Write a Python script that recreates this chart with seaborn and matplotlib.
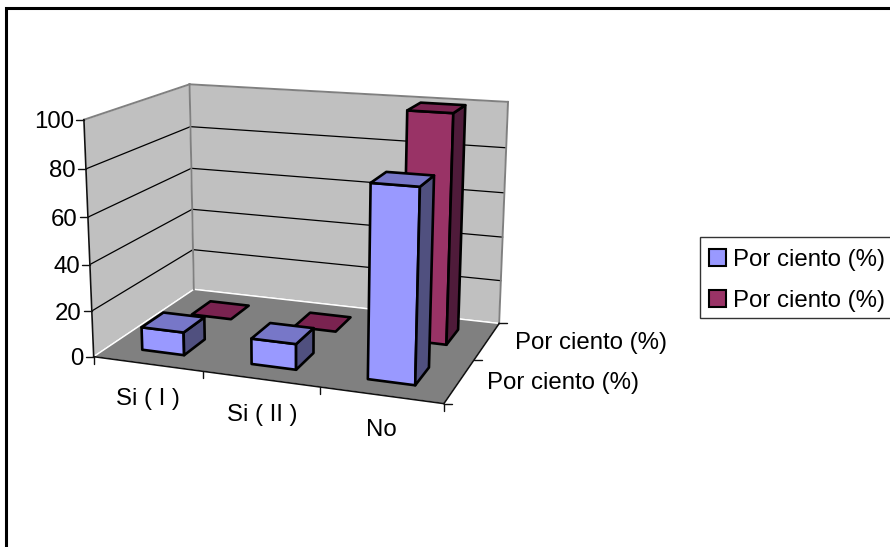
import numpy as np
import pandas as pd
import matplotlib
matplotlib.use("Agg")
import matplotlib.pyplot as plt
from matplotlib.patches import Patch, Polygon, Rectangle
import seaborn as sns

# Chart values
categories = ["Si ( I )", "Si ( II )", "No"]
front_series = [10, 11, 80]
back_series = [0, 0, 100]
value_ticks = [0, 20, 40, 60, 80, 100]
series_label = "Por ciento (%)"
series_names = [series_label, series_label]

sns.set_theme(style="white")
plt.rcParams["font.family"] = ["Liberation Sans", "DejaVu Sans"]
palette = sns.color_palette(["#9999FF", "#993366"])
top_shades = ["#7777C8", "#7A2350"]
side_shades = ["#50507F", "#4F1B3A"]
TEXT_SIZE = 17.3

df = pd.DataFrame({"categoria": categories, "frente": front_series, "fondo": back_series})

fig = plt.figure(figsize=(8.9, 5.47), dpi=100, facecolor="white")
ax = fig.add_axes([0, 0, 1, 1])
ax.set_xlim(0, 890)
ax.set_ylim(547, 0)
ax.axis("off")

# Perspective camera solved from where the box corners land on the canvas
box_corners = [
    ((0, 0, 0), (93.5, 356)), ((1, 0, 0), (444, 404)), ((1, 1, 0), (499, 323)),
    ((0, 1, 0), (194, 290)), ((0, 0, 1), (84, 120)), ((0, 1, 1), (189.5, 84)),
    ((1, 1, 1), (508, 102)),
]
rows = []
for (a, b, c), (px, py) in box_corners:
    rows.append([a, b, c, 1, 0, 0, 0, 0, -px * a, -px * b, -px * c, -px])
    rows.append([0, 0, 0, 0, a, b, c, 1, -py * a, -py * b, -py * c, -py])
camera = np.linalg.svd(np.array(rows, float))[2][-1].reshape(3, 4)


def project(u, v, w):
    x, y, s = camera @ np.array([u, v, w, 1.0])
    return x / s, y / s


def face(points, color, **kw):
    ax.add_patch(Polygon([project(*p) for p in points], closed=True, facecolor=color, **kw))


def line(p, q, color="black", lw=1.0, zorder=3):
    a, b = project(*p), project(*q)
    ax.plot([a[0], b[0]], [a[1], b[1]], color=color, lw=lw, zorder=zorder, solid_capstyle="projecting")


# Walls and floor
face([(0, 0, 0), (0, 1, 0), (0, 1, 1), (0, 0, 1)], "#C0C0C0", zorder=1)
face([(0, 1, 0), (1, 1, 0), (1, 1, 1), (0, 1, 1)], "#C0C0C0", zorder=1)
face([(0, 0, 0), (1, 0, 0), (1, 1, 0), (0, 1, 0)], "#808080", zorder=1)

# Gridlines and the grey wall outline
for t in value_ticks[1:-1]:
    w = t / 100
    line((0, 0, w), (0, 1, w), lw=0.9, zorder=2)
    line((0, 1, w), (1, 1, w), lw=0.9, zorder=2)
line((0, 0, 1), (0, 1, 1), "#808080", 1.4, 2)
line((0, 1, 1), (1, 1, 1), "#808080", 1.4, 2)
line((0, 1, 0), (0, 1, 1), "#808080", 1.4, 2)
line((1, 1, 0), (1, 1, 1), "#808080", 1.4, 2)

# Axis lines and tick marks
line((0, 0, 0), (0, 0, 1), "#111111", 1.2)
line((0, 0, 0), (1, 0, 0), "#111111", 1.2)
line((1, 0, 0), (1, 1, 0), "#111111", 1.2)
for t in value_ticks:
    x, y = project(0, 0, t / 100)
    ax.plot([x - 8, x], [y, y], color="#111111", lw=1, zorder=3)
    ax.text(x - 10, y, str(t), ha="right", va="center_baseline", fontsize=TEXT_SIZE, color="black")
for k in range(len(categories) + 1):
    x, y = project(k / len(categories), 0, 0)
    ax.plot([x, x], [y, y + 7], color="#111111", lw=1, zorder=3)
for k in range(len(series_names) + 1):
    x, y = project(1, k / len(series_names), 0)
    ax.plot([x, x + 8], [y, y], color="#111111", lw=1, zorder=3)

label_anchor = [(148, 396), (262, 412), (381, 428)]
for name, (lx, ly) in zip(df["categoria"], label_anchor):
    ax.text(lx, ly, name, ha="center", va="center_baseline", fontsize=TEXT_SIZE, color="black")
ax.text(487, 380, series_names[0], ha="left", va="center_baseline", fontsize=TEXT_SIZE, color="black")
ax.text(515, 340, series_names[1], ha="left", va="center_baseline", fontsize=TEXT_SIZE, color="black")

# Bars, back row first so the front row paints over it
bar_du = 0.13
bar_dv = 0.21
style = dict(edgecolor="black", linewidth=1.9, joinstyle="round")
rows_back_to_front = [(1, df["fondo"]), (0, df["frente"])]
order = 10
for row, values in rows_back_to_front:
    v0 = (row + 0.5) / 2 - bar_dv / 2
    v1 = v0 + bar_dv
    for i, val in enumerate(values):
        u0 = (i + 0.5) / 3 - bar_du / 2
        u1 = u0 + bar_du
        w = val / 100
        if w > 0:
            face([(u0, v0, 0), (u1, v0, 0), (u1, v0, w), (u0, v0, w)], palette[row], zorder=order, **style)
            face([(u1, v0, 0), (u1, v1, 0), (u1, v1, w), (u1, v0, w)], side_shades[row], zorder=order, **style)
        face([(u0, v0, w), (u1, v0, w), (u1, v1, w), (u0, v1, w)], top_shades[row], zorder=order, **style)
        order += 1

# Chart area border, running off the canvas on the right and at the bottom
ax.plot([6, 6, 890], [547, 8, 8], color="black", lw=2.2, zorder=30, solid_joinstyle="miter")

# Legend box with the entries set inside it
ax.add_patch(Rectangle((700, 237), 200, 81, facecolor="white", edgecolor="#333333", lw=1.0, zorder=19))
handles = [Patch(facecolor=palette[0], edgecolor="black", linewidth=1.5),
           Patch(facecolor=palette[1], edgecolor="black", linewidth=1.5)]
leg = ax.legend(handles, series_names, loc="upper left", bbox_to_anchor=(700 / 890, 1 - 240 / 547),
                borderaxespad=0, fontsize=TEXT_SIZE, frameon=False, handlelength=0.72, handleheight=0.72,
                handletextpad=0.28, borderpad=0.37, labelspacing=0.78, labelcolor="black")
leg.set_zorder(20)

fig.savefig("out.png", dpi=100)
